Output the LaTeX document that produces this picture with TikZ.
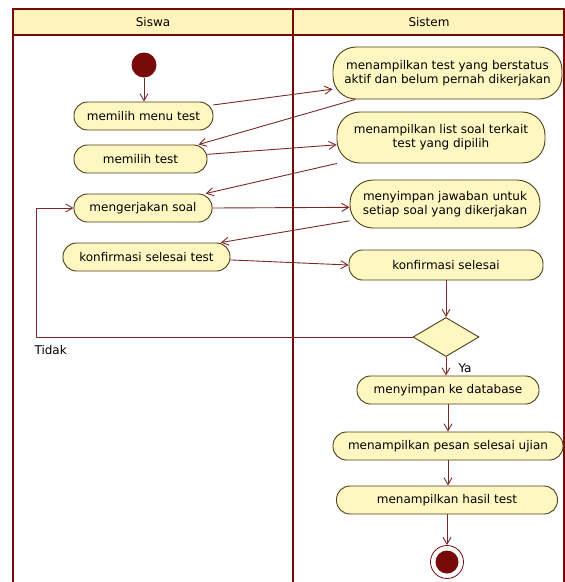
\documentclass[tikz,border=0pt]{standalone}
\usepackage{fontspec}
\setmainfont{DejaVu Sans}
\usetikzlibrary{shapes.geometric,arrows.meta}
\definecolor{lanered}{HTML}{780A0A}
\definecolor{flowred}{HTML}{7A2828}
\definecolor{actfill}{HTML}{FFF7C2}
\definecolor{actline}{HTML}{4E3E16}
\definecolor{headfill}{HTML}{FFF5BC}
\begin{document}
\begin{tikzpicture}[x=1pt,y=-1pt,font=\fontsize{12}{14}\selectfont,
    act/.style={rectangle,rounded corners=13.5pt,draw=actline,fill=actfill,line width=0.9pt,
        align=center,inner sep=1pt,minimum height=28pt},
    act2/.style={act,rounded corners=23pt},
    arr/.style={draw=flowred,line width=0.9pt,-{Straight Barb[length=7pt,width=8pt]}}]
    \useasboundingbox (0,0) rectangle (565,582);
    % lanes
    \fill[headfill] (13,9) rectangle (564,35);
    \draw[lanered,line width=1.5pt] (13,600) -- (13,9) -- (564,9) -- (564,600);
    \draw[lanered,line width=1.2pt] (13,35) -- (564,35);
    \draw[lanered,line width=2.6pt] (293,9) -- (293,600);
    \node (siswa) at (153,22) {Siswa};
    \node (sistem) at (429,22) {Sistem};
    % Siswa
    \node[circle,fill=lanered,minimum size=25pt,inner sep=0] (start) at (144,65) {};
    \node[act,minimum width=139pt] (menu) at (143.5,116) {memilih menu test};
    \node[act,minimum width=133pt] (pilih) at (140.5,159) {memilih test};
    \node[act,minimum width=138pt] (kerjakan) at (143,208) {mengerjakan soal};
    \node[act,minimum width=167pt] (konfirm) at (146.5,257) {konfirmasi selesai test};
    % Sistem
    \node[act2,minimum width=229pt,minimum height=52pt] (tampil) at (447.5,73) {menampilkan test yang berstatus\\aktif dan belum pernah dikerjakan};
    \node[act2,minimum width=208pt,minimum height=51pt] (list) at (441,137.5) {menampilkan list soal terkait\\test yang dipilih};
    \node[act2,minimum width=190pt,minimum height=48pt] (simpan) at (445,204) {menyimpan jawaban untuk\\setiap soal yang dikerjakan};
    \node[act,minimum width=194pt,minimum height=30pt] (selesai) at (446,265) {konfirmasi selesai};
    \node[diamond,draw=actline,fill=actfill,line width=0.9pt,minimum width=66pt,minimum height=39pt,inner sep=0] (cek) at (446,337) {};
    \node[act,minimum width=182pt] (db) at (448,390) {menyimpan ke database};
    \node[act,minimum width=230pt] (pesan) at (448,446) {menampilkan pesan selesai ujian};
    \node[act,minimum width=221pt] (hasil) at (447,500) {menampilkan hasil test};
    \node[circle,draw=lanered,fill=white,line width=0.8pt,minimum size=33pt,inner sep=0] (end) at (447,562) {};
    \node[circle,fill=lanered,minimum size=23pt,inner sep=0] (endin) at (end) {};
    % flows
    \draw[arr] (start) -- (start |- menu.north);
    \draw[arr] (menu.9) -- (tampil.188);
    \draw[arr] (tampil.196) -- (pilih.14);
    \draw[arr] (pilih.4) -- (list.184);
    \draw[arr] (list.194) -- (kerjakan.13);
    \draw[arr] (kerjakan.east) -- (simpan.182);
    \draw[arr] (simpan.190) -- (konfirm.11);
    \draw[arr] (konfirm.-2) -- (selesai.west);
    \draw[arr] (selesai.south) -- (selesai.south |- cek.north);
    \coordinate (balik) at (36,337);
    \draw[arr] (cek.west) -- (balik) |- (kerjakan.west);
    \node[anchor=west] (tidak) at (31,350) {Tidak};
    \draw[arr] (cek.south) -- (cek.south |- db.north);
    \node[anchor=west] (ya) at (455,368) {Ya};
    \draw[arr] (db.south) -- (db.south |- pesan.north);
    \draw[arr] (pesan.south) -- (pesan.south |- hasil.north);
    \draw[arr] (hasil.south) -- (end);
\end{tikzpicture}
\end{document}
